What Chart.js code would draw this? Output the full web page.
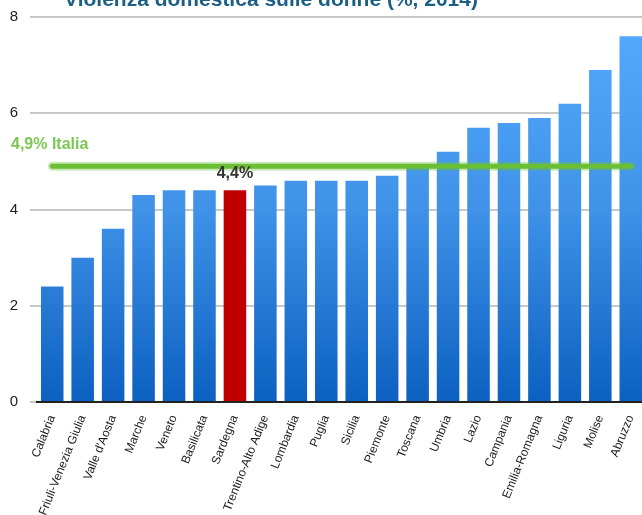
<!DOCTYPE html>
<html>
<head>
<meta charset="utf-8">
<script src="https://cdn.jsdelivr.net/npm/chart.js@4"></script>
<style>
  html, body { margin: 0; padding: 0; background: #fff; overflow: hidden; }
  #wrap { position: relative; width: 642px; height: 515px; overflow: hidden; }
  #box { position: absolute; left: 0; top: -4px; width: 652px; height: 534px; }
</style>
</head>
<body>
<div id="wrap"><div id="box"><canvas id="chart"></canvas></div></div>
<script>
const titleText = 'Violenza domestica sulle donne (%, 2014)';
const regioni = ['Calabria', 'Friuli-Venezia Giulia', "Valle d'Aosta", 'Marche', 'Veneto', 'Basilicata',
  'Sardegna', 'Trentino-Alto Adige', 'Lombardia', 'Puglia', 'Sicilia', 'Piemonte', 'Toscana', 'Umbria',
  'Lazio', 'Campania', 'Emilia-Romagna', 'Liguria', 'Molise', 'Abruzzo'];
const valori = [2.4, 3.0, 3.6, 4.3, 4.4, 4.4, 4.4, 4.5, 4.6, 4.6, 4.6, 4.7, 4.9, 5.2, 5.7, 5.8, 5.9, 6.2, 6.9, 7.6];
const italia = 4.9;
const evidenziata = 'Sardegna';
const yTicks = [0, 2, 4, 6, 8];

function barColor(ctx) {
  if (regioni[ctx.dataIndex] === evidenziata) return '#c00000';
  const area = ctx.chart.chartArea;
  if (!area) return '#4a9ef0';
  const g = ctx.chart.ctx.createLinearGradient(0, area.top, 0, area.bottom);
  g.addColorStop(0, '#55aaff');
  g.addColorStop(0.5, '#3f92e8');
  g.addColorStop(1, '#0c60c0');
  return g;
}

// title (clipped at top) and annotation labels
const labelsPlugin = {
  id: 'labels',
  afterDatasetsDraw(chart) {
    const c = chart.ctx;
    const x = chart.scales.x, y = chart.scales.y;
    c.save();
    c.fillStyle = '#1c5f85';
    c.font = 'bold 21px "Liberation Sans", Arial, sans-serif';
    c.textAlign = 'center';
    c.textBaseline = 'alphabetic';
    c.fillText(titleText, 271, 10);

    c.fillStyle = '#7cc653';
    c.font = 'bold 16px "Liberation Sans", Arial, sans-serif';
    c.textAlign = 'left';
    c.textBaseline = 'middle';
    c.fillText('4,9% Italia', 11, y.getPixelForValue(italia) - 22);

    const i = regioni.indexOf(evidenziata);
    c.fillStyle = '#333';
    c.font = 'bold 16px "Liberation Sans", Arial, sans-serif';
    c.textAlign = 'center';
    c.fillText(String(valori[i]).replace('.', ',') + '%', x.getPixelForValue(i), y.getPixelForValue(valori[i]) - 17);
    c.restore();
  }
};

new Chart(document.getElementById('chart'), {
  type: 'bar',
  data: {
    labels: regioni,
    datasets: [
      {
        type: 'line',
        data: regioni.map(() => italia),
        borderColor: 'rgba(106, 191, 53, 0.35)',
        borderWidth: 9,
        borderCapStyle: 'round',
        pointRadius: 0,
        order: 1
      },
      {
        type: 'line',
        data: regioni.map(() => italia),
        borderColor: '#6abf35',
        borderWidth: 5,
        borderCapStyle: 'round',
        pointRadius: 0,
        order: 0
      },
      {
        data: valori,
        backgroundColor: barColor,
        categoryPercentage: 1,
        barPercentage: 0.74,
        order: 2
      }
    ]
  },
  options: {
    responsive: true,
    maintainAspectRatio: false,
    animation: false,
    layout: { padding: { top: 4, right: 6, left: 0, bottom: 0 } },
    plugins: {
      legend: { display: false },
      tooltip: { enabled: false }
    },
    scales: {
      x: {
        grid: { display: false },
        border: { color: '#222', width: 2 },
        afterFit: (s) => { s.height = 128; },
        ticks: {
          color: '#222',
          font: { family: '"Liberation Sans", Arial, sans-serif', size: 12 },
          minRotation: 68,
          maxRotation: 68,
          padding: 3,
          autoSkip: false
        }
      },
      y: {
        min: 0,
        max: 8,
        afterFit: (s) => { s.width = 37; },
        afterBuildTicks: (s) => { s.ticks = yTicks.map(v => ({ value: v })); },
        border: { display: false },
        grid: { color: '#c8c8c8', lineWidth: 2, tickLength: 7 },
        ticks: {
          color: '#222',
          padding: 12,
          font: { family: '"Liberation Sans", Arial, sans-serif', size: 15 }
        }
      }
    }
  },
  plugins: [labelsPlugin]
});
</script>
</body>
</html>
